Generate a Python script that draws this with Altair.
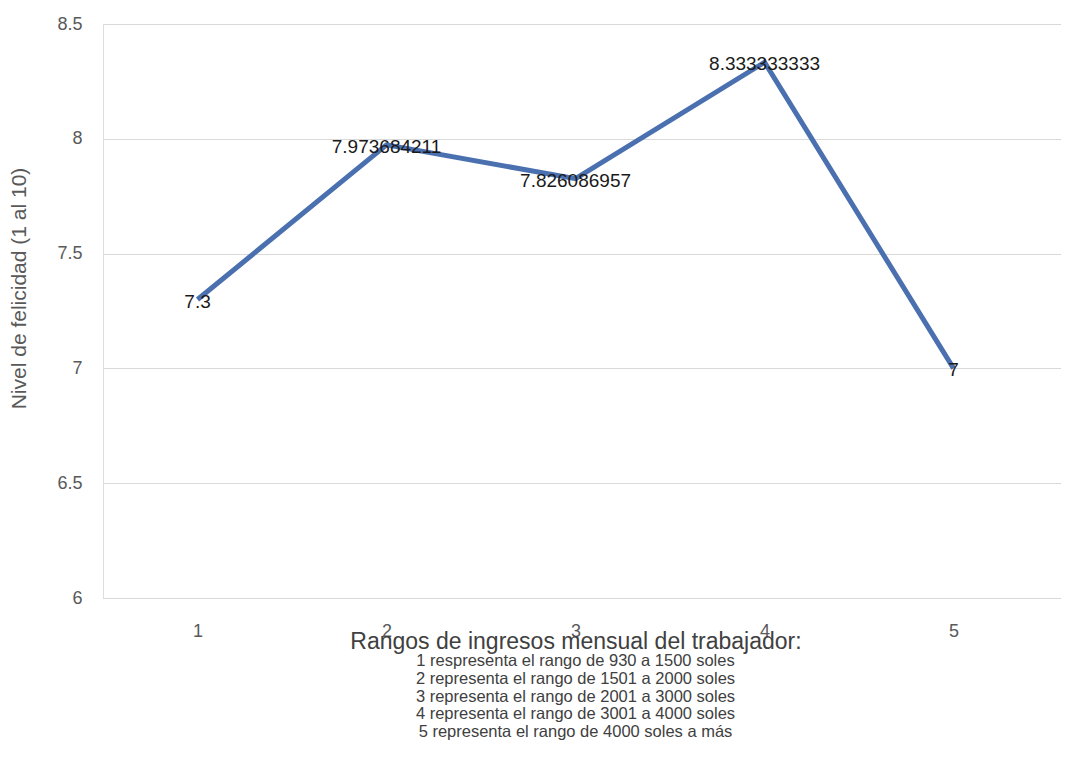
import altair as alt
import pandas as pd

rangos = ["1", "2", "3", "4", "5"]
felicidad = [7.3, 7.973684211, 7.826086957, 8.333333333, 7.0]
etiquetas = ["7.3", "7.973684211", "7.826086957", "8.333333333", "7"]
y_ticks = [6, 6.5, 7, 7.5, 8, 8.5]
titulo_x = "Rangos de ingresos mensual del trabajador:"
notas = [
    "1 respresenta el rango de 930 a 1500 soles",
    "2 representa el rango de 1501 a 2000 soles",
    "3 representa el rango de 2001 a 3000 soles",
    "4 representa el rango de 3001 a 4000 soles",
    "5 representa el rango de 4000 soles a más",
]

df = pd.DataFrame({"rango": rangos, "felicidad": felicidad, "etiqueta": etiquetas})

W, H = 958, 574
CX = 472.5  # centre of the category area
FONT = "Liberation Sans"

x = alt.X(
    "rango:O",
    sort=rangos,
    scale=alt.Scale(type="point", padding=0.5344, align=0.468),
    axis=alt.Axis(
        title=titulo_x,
        labelAngle=0,
        labelFontSize=18,
        labelColor="#595959",
        labelPadding=24,
        labelFont=FONT,
        ticks=False,
        domainColor="#d9d9d9",
        domainWidth=1,
        titleFont=FONT,
        titleFontSize=23,
        titleFontWeight="normal",
        titleColor="#404040",
        titleX=CX,
        titleY=50,
        titleAlign="center",
        titleBaseline="alphabetic",
    ),
)
y = alt.Y(
    "felicidad:Q",
    scale=alt.Scale(domain=[6, 8.5], nice=False, zero=False),
    axis=alt.Axis(
        title="Nivel de felicidad (1 al 10)",
        values=y_ticks,
        format="~g",
        labelFontSize=18,
        labelColor="#595959",
        labelPadding=21,
        labelFont=FONT,
        ticks=False,
        domain=False,
        grid=True,
        gridColor="#d9d9d9",
        gridWidth=1,
        titleFont=FONT,
        titleFontSize=21,
        titleFontWeight="normal",
        titleColor="#595959",
        titleAngle=-90,
        titleX=-84,
        titleY=264,
        titleAlign="center",
        titleBaseline="middle",
    ),
)

base = alt.Chart(df)
line = base.mark_line(color="#4a70b0", strokeWidth=5).encode(x=x, y=y)
labels = base.mark_text(
    font=FONT, fontSize=19, color="#1a1a1a", baseline="middle", align="center", dy=2
).encode(x=x, y=y, text="etiqueta:N")

notas_df = pd.DataFrame({"texto": ["\n".join(notas)]})
nota = alt.Chart(notas_df).mark_text(
    font=FONT, fontSize=16.5, color="#404040", align="center", baseline="top",
    lineBreak="\n", lineHeight=17.75,
).encode(x=alt.value(CX), y=alt.value(629), text="texto:N")

chart = (
    alt.layer(line, labels, nota)
    .properties(
        width=W,
        height=H,
        autosize=alt.AutoSizeParams(type="none"),
        padding={"left": 95, "top": 16, "right": 0, "bottom": 160},
    )
    .configure_view(strokeWidth=0)
    .configure(background="white")
)

chart.save("out.html", embed_options={"renderer": "svg", "actions": False})
